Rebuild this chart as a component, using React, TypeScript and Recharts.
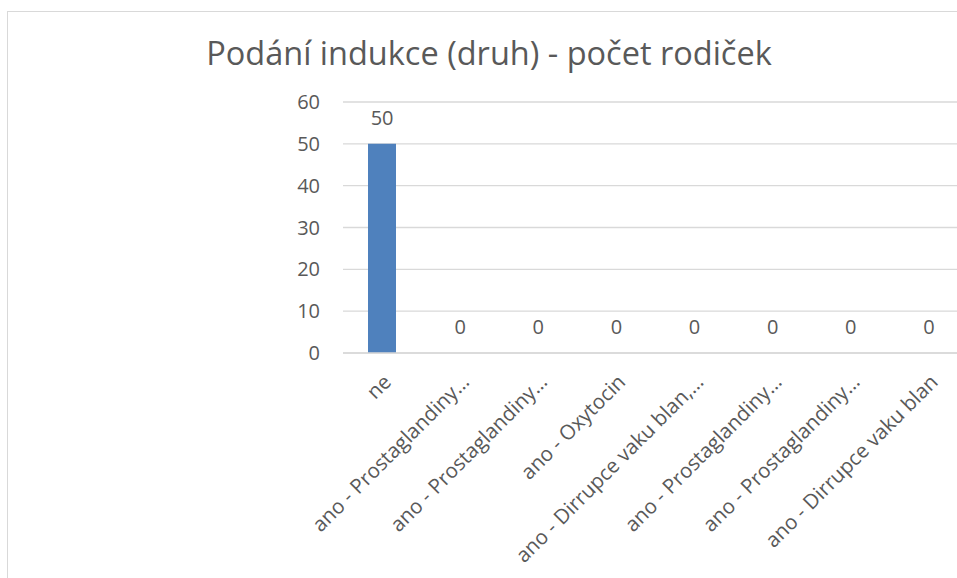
import React from "react";
import { ComposedChart, Bar, Line, XAxis, YAxis, CartesianGrid, LabelList } from "recharts";

const categories = [
  "ne",
  "ano - Prostaglandiny…",
  "ano - Prostaglandiny…",
  "ano - Oxytocin",
  "ano - Dirrupce vaku blan,…",
  "ano - Prostaglandiny…",
  "ano - Prostaglandiny…",
  "ano - Dirrupce vaku blan",
];
const counts = [50, 0, 0, 0, 0, 0, 0, 0];
const yTicks = [0, 10, 20, 30, 40, 50, 60];
const title = "Podání indukce (druh) - počet rodiček";

const data = categories.map((name, i) => ({ name, value: counts[i] }));

const FONT = "'Open Sans', 'DejaVu Sans', sans-serif";
const TEXT = "#595959";
const GRID = "#D9D9D9";

export default function App() {
  return (
    <div
      style={{
        position: "fixed",
        left: 0,
        top: 0,
        width: 957,
        height: 578,
        overflow: "hidden",
        background: "#fff",
        fontFamily: FONT,
      }}
    >
      <div
        style={{
          position: "absolute",
          left: 7,
          top: 11,
          width: 1100,
          height: 700,
          border: `1px solid ${GRID}`,
          boxSizing: "border-box",
        }}
      />
      <div
        style={{
          position: "absolute",
          left: 0,
          top: 37,
          width: 978,
          textAlign: "center",
          fontSize: 32.5,
          lineHeight: 1,
          color: TEXT,
          whiteSpace: "nowrap",
        }}
      >
        {title}
      </div>
      <div style={{ position: "absolute", left: 0, top: 0 }}>
        <ComposedChart
          width={1000}
          height={620}
          data={data}
          margin={{ top: 102, right: 32, bottom: 67, left: 0 }}
        >
          <CartesianGrid vertical={false} stroke={GRID} strokeWidth={1.3} />
          <XAxis
            dataKey="name"
            interval={0}
            height={200}
            tickLine={false}
            tickSize={0}
            tickMargin={20}
            axisLine={{ stroke: GRID, strokeWidth: 1.3 }}
            angle={-45}
            textAnchor="end"
            tick={{ fill: TEXT, fontSize: 20.5, fontFamily: FONT }}
          />
          <YAxis
            width={343}
            domain={[0, 60]}
            ticks={yTicks}
            axisLine={false}
            tickLine={false}
            tickSize={0}
            tickMargin={23}
            tick={{ fill: TEXT, fontSize: 20, fontFamily: FONT }}
          />
          <Bar dataKey="value" fill="#4F81BD" barSize={28} isAnimationActive={false} />
          <Line
            dataKey="value"
            stroke="none"
            dot={false}
            activeDot={false}
            legendType="none"
            isAnimationActive={false}
          >
            <LabelList
              dataKey="value"
              position="top"
              offset={19}
              fill={TEXT}
              fontSize={20}
              fontFamily={FONT}
            />
          </Line>
        </ComposedChart>
      </div>
    </div>
  );
}
